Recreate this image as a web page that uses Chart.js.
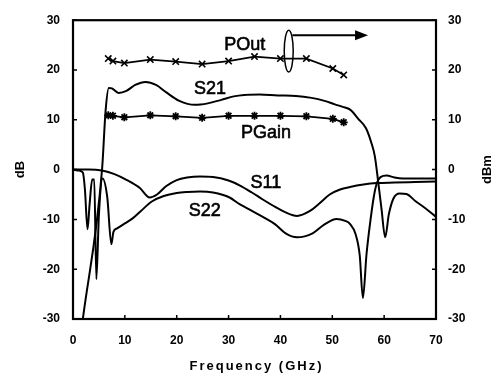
<!DOCTYPE html>
<html>
<head>
<meta charset="utf-8">
<script src="https://cdn.jsdelivr.net/npm/chart.js@4.4.1/dist/chart.umd.min.js"></script>
<style>
  html, body { margin: 0; padding: 0; background: #fff; }
  #wrap { width: 497px; height: 379px; position: relative; }
</style>
</head>
<body>
<div id="wrap"><canvas id="myChart"></canvas></div>
<script>
// values (frequency in GHz, levels in dB / dBm)
var xTicks = [0, 10, 20, 30, 40, 50, 60, 70];
var yTicks = [-30, -20, -10, 0, 10, 20, 30];

var s21Freq = [1.9, 5.6, 6.3, 6.9, 7.5, 8.8, 10.3, 12, 14, 16, 18, 20.5, 23.5, 26, 28.6, 31, 33, 36, 39.5, 43, 46, 48.5, 50.5, 52, 53.5, 55, 56.5, 57.5, 58.2, 58.8, 59.5, 60.2, 60.9, 61.8, 63, 64.3, 66, 68, 70];
var s21Db   = [-30, 0, 12, 16.4, 16.3, 15.4, 15.8, 17, 17.6, 17, 15.5, 13.8, 13, 13.3, 14, 14.7, 15, 15.1, 14.9, 14.8, 14.4, 13.8, 13.1, 12.6, 12, 10.2, 8.3, 5.5, 2.7, -2, -8, -13.6, -9, -5.8, -4.8, -4.9, -6.3, -7.8, -9.5];

var s11Freq = [0, 3, 5.6, 8, 10.4, 12.9, 14.8, 16.2, 18, 20, 22, 24.5, 27, 30, 32.2, 34.5, 36.6, 39, 41, 43.2, 45.7, 47.5, 49.5, 51.5, 53.4, 56, 58.6, 62, 66, 70];
var s11Db   = [0, 0, -0.2, -0.9, -2.1, -3.7, -5.6, -5, -3.3, -2.1, -1.6, -1.4, -1.5, -2.2, -3.2, -4.6, -6, -7.5, -8.6, -9.3, -8.3, -6.8, -5, -4, -3.5, -3, -2.7, -2.6, -2.5, -2.4];

var s22Freq = [0, 1.2, 1.9, 2.3, 2.8, 3.2, 3.7, 4.1, 4.5, 5, 5.7, 6.6, 7.4, 7.8, 8.5, 10, 11.5, 13, 15.2, 17.5, 20, 22, 24.5, 27, 30.2, 32.2, 34.5, 36.6, 39, 41, 43.2, 46.2, 48.5, 50.8, 52.5, 53.4, 54.5, 55.3, 55.9, 56.6, 57.2, 58, 58.6, 59.3, 60.5, 62, 63.6, 66, 70];
var s22Db   = [0, -0.2, -0.6, -4, -12, -7, -2, -2, -22, -9, -1.8, -5.5, -15, -12.5, -11.8, -10.8, -9.8, -8.4, -6.4, -5.3, -4.7, -4.5, -4.4, -4.6, -5.6, -7, -8.3, -9.5, -11, -12.8, -13.6, -12.8, -11, -9.9, -10.3, -10.9, -13, -17.3, -25.8, -17, -11.5, -5.5, -2.7, -1.5, -1.2, -1.6, -1.8, -1.8, -1.8];

var powerFreq = [6.8, 7.7, 9.9, 14.9, 19.8, 24.9, 30, 35, 40, 45, 50.1, 52.2];
var poutDbm   = [22.3, 21.8, 21.4, 22.1, 21.7, 21.2, 21.8, 22.7, 22.3, 22.3, 20.3, 19.0];
var pgainDb   = [10.9, 10.8, 10.5, 10.9, 10.7, 10.4, 10.8, 10.8, 10.8, 10.7, 10.2, 9.5];

function pts(xs, ys) {
    return xs.map(function (x, i) { return { x: x, y: ys[i] }; });
}

function curve(xs, ys) {
    return {
        data: pts(xs, ys),
        borderColor: '#000',
        borderWidth: 2,
        pointRadius: 0,
        tension: 0.3,
        cubicInterpolationMode: 'monotone',
        yAxisID: 'y'
    };
}

// frame, inward ticks, the POut ellipse/arrow and the curve names
var decorations = {
    id: 'decorations',
    afterDraw: function (chart) {
        var ctx = chart.ctx, a = chart.chartArea;
        var xs = chart.scales.x, ys = chart.scales.y, ys2 = chart.scales.y2;
        ctx.save();
        ctx.strokeStyle = '#000';
        ctx.fillStyle = '#000';
        ctx.lineWidth = 2.2;
        ctx.strokeRect(a.left, a.top, a.right - a.left, a.bottom - a.top);

        ctx.lineWidth = 1.5;
        ctx.beginPath();
        xTicks.forEach(function (v) {
            var px = xs.getPixelForValue(v);
            ctx.moveTo(px, a.bottom);
            ctx.lineTo(px, a.bottom - 4);
        });
        yTicks.forEach(function (v) {
            var py = ys.getPixelForValue(v);
            ctx.moveTo(a.left, py);
            ctx.lineTo(a.left + 4, py);
            var py2 = ys2.getPixelForValue(v);
            ctx.moveTo(a.right, py2);
            ctx.lineTo(a.right - 4, py2);
        });
        ctx.stroke();

        // ellipse round the POut trace, arrow to the right axis
        var cx = xs.getPixelForValue(41.6);
        var top = ys2.getPixelForValue(28), bot = ys2.getPixelForValue(19.6);
        ctx.beginPath();
        ctx.ellipse(cx, (top + bot) / 2, 4.5, (bot - top) / 2, 0, 0, Math.PI * 2);
        ctx.stroke();
        var ay = ys2.getPixelForValue(27);
        var ax0 = xs.getPixelForValue(42.3), ax1 = xs.getPixelForValue(56.9);
        ctx.lineWidth = 2;
        ctx.beginPath();
        ctx.moveTo(ax0, ay);
        ctx.lineTo(ax1 - 10, ay);
        ctx.stroke();
        ctx.beginPath();
        ctx.moveTo(ax1, ay);
        ctx.lineTo(ax1 - 13, ay - 5);
        ctx.lineTo(ax1 - 13, ay + 5);
        ctx.closePath();
        ctx.fill();

        ctx.font = '18px "Liberation Sans", Arial, sans-serif';
        ctx.textAlign = 'center';
        ctx.textBaseline = 'middle';
        ctx.lineWidth = 0.6;
        [['POut', 33.1, 25.0], ['S21', 26.4, 16.1], ['PGain', 37.2, 7.4],
         ['S11', 37.2, -2.7], ['S22', 25.4, -8.3]].forEach(function (l) {
            var px = xs.getPixelForValue(l[1]), py = ys.getPixelForValue(l[2]);
            ctx.fillText(l[0], px, py);
            ctx.strokeText(l[0], px, py);
        });

        // axis titles
        ctx.font = 'bold 13px "Liberation Sans", Arial, sans-serif';
        ctx.save();
        ctx.translate(20, (a.top + a.bottom) / 2);
        ctx.rotate(-Math.PI / 2);
        ctx.fillText('dB', 0, 0);
        ctx.restore();
        ctx.save();
        ctx.translate(487, (a.top + a.bottom) / 2);
        ctx.rotate(-Math.PI / 2);
        ctx.fillText('dBm', 0, 0);
        ctx.restore();
        ctx.letterSpacing = '2px';
        ctx.fillText('Frequency (GHz)', (a.left + a.right) / 2 + 2, 366);
        ctx.restore();
    }
};

function createChart() {
    var ctx = document.getElementById('myChart').getContext('2d');
    var tickFont = { family: '"Liberation Sans", Arial, sans-serif', size: 12, weight: 'bold' };
    new Chart(ctx, {
        type: 'line',
        data: {
            datasets: [
                curve(s21Freq, s21Db),
                curve(s11Freq, s11Db),
                curve(s22Freq, s22Db),
                {
                    data: pts(powerFreq, poutDbm),
                    borderColor: '#000',
                    backgroundColor: '#000',
                    borderWidth: 1.8,
                    pointStyle: 'crossRot',
                    pointRadius: 4.5,
                    pointBorderWidth: 1.6,
                    tension: 0,
                    yAxisID: 'y2'
                },
                {
                    data: pts(powerFreq, pgainDb),
                    borderColor: '#000',
                    backgroundColor: '#000',
                    borderWidth: 1.8,
                    pointStyle: 'star',
                    pointRadius: 4,
                    pointBorderWidth: 1.8,
                    tension: 0,
                    yAxisID: 'y'
                }
            ]
        },
        options: {
            responsive: true,
            maintainAspectRatio: false,
            animation: false,
            layout: { padding: { top: 10, left: 0, right: 0, bottom: 0 } },
            plugins: { legend: { display: false }, tooltip: { enabled: false } },
            scales: {
                x: {
                    type: 'linear', min: 0, max: 70,
                    grid: { display: false, drawTicks: false },
                    border: { display: false },
                    ticks: { stepSize: 10, color: '#000', font: tickFont, padding: 14, maxRotation: 0 },
                    afterFit: function (s) { s.height = 60; }
                },
                y: {
                    position: 'left', min: -30, max: 30,
                    grid: { display: false, drawTicks: false },
                    border: { display: false },
                    ticks: { stepSize: 10, color: '#000', font: tickFont, padding: 13 },
                    afterFit: function (s) { s.width = 73; }
                },
                y2: {
                    position: 'right', min: -30, max: 30,
                    grid: { display: false, drawTicks: false },
                    border: { display: false },
                    ticks: { stepSize: 10, color: '#000', font: tickFont, padding: 12 },
                    afterFit: function (s) { s.width = 61; }
                }
            }
        },
        plugins: [decorations]
    });
}

createChart();
</script>
</body>
</html>
